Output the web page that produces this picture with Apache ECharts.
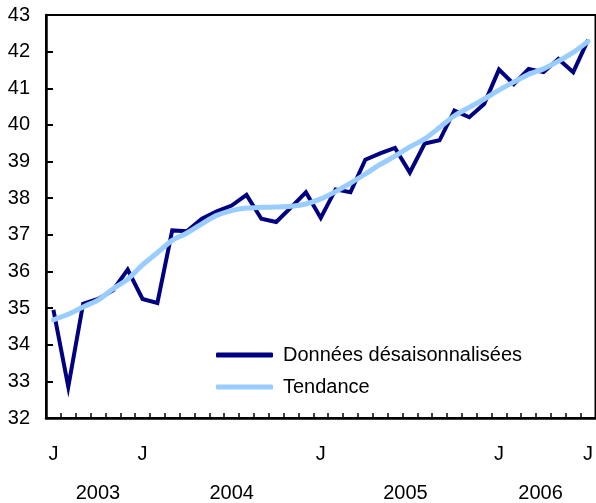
<!DOCTYPE html>
<html>
<head>
<meta charset="utf-8">
<script src="https://cdn.jsdelivr.net/npm/echarts@6/dist/echarts.min.js"></script>
<style>
  html, body { margin: 0; padding: 0; background: #fff; }
  #chart { width: 596px; height: 503px; }
</style>
</head>
<body>
<div id="chart"></div>
<script>
// mois, de janvier 2003 à janvier 2006
const months = [
  '2003-01', '2003-02', '2003-03', '2003-04', '2003-05', '2003-06',
  '2003-07', '2003-08', '2003-09', '2003-10', '2003-11', '2003-12',
  '2004-01', '2004-02', '2004-03', '2004-04', '2004-05', '2004-06',
  '2004-07', '2004-08', '2004-09', '2004-10', '2004-11', '2004-12',
  '2005-01', '2005-02', '2005-03', '2005-04', '2005-05', '2005-06',
  '2005-07', '2005-08', '2005-09', '2005-10', '2005-11', '2005-12',
  '2006-01'
];
// étiquettes des mois (une seule lettre, certaines seulement)
const monthLabels = [
  'J', '', '', '', '', '', 'J', '', '', '', '', '',
  '', '', '', '', '', '', 'J', '', '', '', '', '',
  '', '', '', '', '', '', 'J', '', '', '', '', '',
  'J'
];
const years = ['2003', '2004', '2005', '2006'];
const yearPos = [3, 12, 23.7, 32.8];

const seasAdj = [
  34.95, 32.85, 35.12, 35.25, 35.48, 36.05, 35.25, 35.14, 37.12, 37.10,
  37.44, 37.64, 37.80, 38.09, 37.44, 37.35, 37.75, 38.16, 37.46, 38.24,
  38.16, 39.05, 39.22, 39.37, 38.70, 39.49, 39.58, 40.39, 40.21, 40.57,
  41.51, 41.11, 41.53, 41.44, 41.80, 41.44, 42.32
];
const trend = [
  34.68, 34.83, 35.03, 35.22, 35.52, 35.79, 36.18, 36.51, 36.85, 37.05,
  37.30, 37.53, 37.66, 37.73, 37.75, 37.76, 37.78, 37.84, 37.98, 38.18,
  38.41, 38.66, 38.92, 39.15, 39.40, 39.62, 39.93, 40.25, 40.48, 40.70,
  40.95, 41.17, 41.38, 41.53, 41.74, 41.98, 42.28
];

const font = '"Liberation Sans", Arial, Helvetica, sans-serif';

const chart = echarts.init(document.getElementById('chart'));
chart.setOption({
  animation: false,
  textStyle: { fontFamily: font },
  grid: {
    left: 46,
    top: 15,
    width: 555,
    height: 406,
    show: true,
    borderColor: '#000',
    borderWidth: 2
  },
  legend: {
    orient: 'vertical',
    left: 211,
    top: 340,
    itemWidth: 57,
    itemHeight: 5,
    itemGap: 12,
    icon: 'roundRect',
    textStyle: {
      fontFamily: font,
      fontSize: 20,
      color: '#000',
      lineHeight: 20,
      padding: [0, 0, 0, 5]
    },
    data: ['Données désaisonnalisées', 'Tendance']
  },
  xAxis: [
    {
      type: 'category',
      data: months,
      boundaryGap: true,
      axisLine: { show: true, onZero: false, lineStyle: { color: '#000', width: 2.5 } },
      axisTick: {
        show: true,
        inside: true,
        length: 5,
        interval: 0,
        lineStyle: { color: '#000', width: 1.5 }
      },
      axisLabel: {
        interval: function (i) { return monthLabels[i] !== ''; },
        formatter: function (v, i) { return monthLabels[i]; },
        color: '#000',
        fontSize: 20,
        margin: 26
      },
      splitLine: { show: false }
    },
    {
      type: 'value',
      position: 'bottom',
      min: -0.5,
      max: 36.5,
      axisLine: { show: false, onZero: false },
      axisTick: { show: false },
      splitLine: { show: false },
      axisLabel: {
        customValues: yearPos,
        formatter: function (v) { return years[yearPos.indexOf(v)]; },
        color: '#000',
        fontSize: 20,
        margin: 65,
        showMinLabel: true,
        showMaxLabel: true
      }
    }
  ],
  yAxis: {
    type: 'value',
    min: 32,
    max: 43,
    interval: 1,
    axisLine: { show: true, onZero: false, lineStyle: { color: '#000', width: 2.5 } },
    axisTick: { show: true, inside: true, length: 7, lineStyle: { color: '#000', width: 2 } },
    axisLabel: { color: '#000', fontSize: 20, margin: 16 },
    splitLine: { show: false }
  },
  series: [
    {
      name: 'Données désaisonnalisées',
      type: 'line',
      data: seasAdj,
      showSymbol: false,
      symbol: 'none',
      itemStyle: { color: '#000080' },
      lineStyle: { color: '#000080', width: 4, join: 'miter' }
    },
    {
      name: 'Tendance',
      type: 'line',
      data: trend,
      smooth: 0.3,
      showSymbol: false,
      symbol: 'none',
      itemStyle: { color: '#99ccff' },
      lineStyle: { color: '#99ccff', width: 5, cap: 'round' }
    }
  ]
});
</script>
</body>
</html>
